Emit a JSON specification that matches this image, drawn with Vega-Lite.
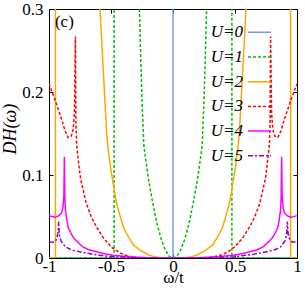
{
"$schema": "https://vega.github.io/schema/vega-lite/v6.json",
"width": 248, "height": 249,
"autosize": {"type": "none"},
"padding": {"left": 49, "top": 9, "right": 8, "bottom": 34},
"background": "white",
"config": {
  "view": {"stroke": "#000", "strokeWidth": 1},
  "font": "Liberation Serif",
  "axis": {"grid": false, "domain": false, "tickColor": "#000", "tickSize": -4, "labelFont": "Liberation Serif", "labelFontSize": 17, "labelColor": "#000", "labelFlush": false, "labelOverlap": false, "labelBound": false, "titleFont": "Liberation Serif", "titleFontSize": 17, "titleFontWeight": "normal", "titleColor": "#000"}
},
"data": {"values": [
{"series":"U=0","x":-1,"y":0},{"series":"U=0","x":0,"y":0},{"series":"U=0","x":0,"y":0.5},{"series":"U=0","x":0,"y":0},{"series":"U=0","x":1,"y":0},

{"series":"U=1","x":-1,"y":0},{"series":"U=1","x":-0.475,"y":0},{"series":"U=1","x":-0.475,"y":0.6},{"series":"U=1","x":-0.29,"y":0.6},{"series":"U=1","x":-0.28,"y":0.37},{"series":"U=1","x":-0.271,"y":0.3},{"series":"U=1","x":-0.26,"y":0.24},{"series":"U=1","x":-0.25,"y":0.19},{"series":"U=1","x":-0.235,"y":0.135},{"series":"U=1","x":-0.2,"y":0.097},{"series":"U=1","x":-0.168,"y":0.07},{"series":"U=1","x":-0.13,"y":0.042},{"series":"U=1","x":-0.094,"y":0.022},{"series":"U=1","x":-0.06,"y":0.009},{"series":"U=1","x":-0.03,"y":0.002},{"series":"U=1","x":0,"y":0},
{"series":"U=1","x":0.03,"y":0.002},{"series":"U=1","x":0.06,"y":0.009},{"series":"U=1","x":0.094,"y":0.022},{"series":"U=1","x":0.13,"y":0.042},{"series":"U=1","x":0.168,"y":0.07},{"series":"U=1","x":0.2,"y":0.097},{"series":"U=1","x":0.235,"y":0.135},{"series":"U=1","x":0.25,"y":0.19},{"series":"U=1","x":0.26,"y":0.24},{"series":"U=1","x":0.271,"y":0.3},{"series":"U=1","x":0.28,"y":0.37},{"series":"U=1","x":0.29,"y":0.6},{"series":"U=1","x":0.475,"y":0.6},{"series":"U=1","x":0.475,"y":0},{"series":"U=1","x":1,"y":0},

{"series":"U=2","x":-1,"y":0},{"series":"U=2","x":-0.948,"y":0},{"series":"U=2","x":-0.948,"y":0.6},{"series":"U=2","x":-0.62,"y":0.6},{"series":"U=2","x":-0.6,"y":0.36},{"series":"U=2","x":-0.589,"y":0.3},{"series":"U=2","x":-0.56,"y":0.22},{"series":"U=2","x":-0.535,"y":0.15},{"series":"U=2","x":-0.522,"y":0.13},{"series":"U=2","x":-0.508,"y":0.114},{"series":"U=2","x":-0.481,"y":0.088},{"series":"U=2","x":-0.454,"y":0.065},{"series":"U=2","x":-0.4,"y":0.037},{"series":"U=2","x":-0.373,"y":0.029},{"series":"U=2","x":-0.32,"y":0.0157},{"series":"U=2","x":-0.266,"y":0.0096},{"series":"U=2","x":-0.2,"y":0.004},{"series":"U=2","x":-0.15,"y":0.0015},{"series":"U=2","x":-0.1,"y":0.0003},{"series":"U=2","x":0,"y":0},
{"series":"U=2","x":0.1,"y":0.0003},{"series":"U=2","x":0.15,"y":0.0015},{"series":"U=2","x":0.2,"y":0.004},{"series":"U=2","x":0.266,"y":0.0096},{"series":"U=2","x":0.32,"y":0.0157},{"series":"U=2","x":0.373,"y":0.029},{"series":"U=2","x":0.4,"y":0.037},{"series":"U=2","x":0.454,"y":0.065},{"series":"U=2","x":0.481,"y":0.088},{"series":"U=2","x":0.508,"y":0.114},{"series":"U=2","x":0.522,"y":0.13},{"series":"U=2","x":0.535,"y":0.15},{"series":"U=2","x":0.56,"y":0.22},{"series":"U=2","x":0.589,"y":0.3},{"series":"U=2","x":0.6,"y":0.36},{"series":"U=2","x":0.62,"y":0.6},{"series":"U=2","x":0.948,"y":0.6},{"series":"U=2","x":0.948,"y":0},{"series":"U=2","x":1,"y":0},

{"series":"U=3","x":-1,"y":0.21},{"series":"U=3","x":-0.95,"y":0.19},{"series":"U=3","x":-0.9,"y":0.168},{"series":"U=3","x":-0.87,"y":0.153},{"series":"U=3","x":-0.845,"y":0.145},{"series":"U=3","x":-0.82,"y":0.147},{"series":"U=3","x":-0.805,"y":0.155},{"series":"U=3","x":-0.795,"y":0.175},{"series":"U=3","x":-0.787,"y":0.267},{"series":"U=3","x":-0.783,"y":0.165},{"series":"U=3","x":-0.778,"y":0.138},{"series":"U=3","x":-0.76,"y":0.113},{"series":"U=3","x":-0.746,"y":0.096},{"series":"U=3","x":-0.72,"y":0.079},{"series":"U=3","x":-0.7,"y":0.066},{"series":"U=3","x":-0.66,"y":0.05},{"series":"U=3","x":-0.62,"y":0.038},{"series":"U=3","x":-0.56,"y":0.024},{"series":"U=3","x":-0.5,"y":0.0135},{"series":"U=3","x":-0.44,"y":0.0072},{"series":"U=3","x":-0.39,"y":0.0036},{"series":"U=3","x":-0.3,"y":0.0005},{"series":"U=3","x":-0.2,"y":0},{"series":"U=3","x":0,"y":0},
{"series":"U=3","x":0.2,"y":0},{"series":"U=3","x":0.3,"y":0.0005},{"series":"U=3","x":0.39,"y":0.0036},{"series":"U=3","x":0.44,"y":0.0072},{"series":"U=3","x":0.5,"y":0.0135},{"series":"U=3","x":0.56,"y":0.024},{"series":"U=3","x":0.62,"y":0.038},{"series":"U=3","x":0.66,"y":0.05},{"series":"U=3","x":0.7,"y":0.066},{"series":"U=3","x":0.72,"y":0.079},{"series":"U=3","x":0.746,"y":0.096},{"series":"U=3","x":0.76,"y":0.113},{"series":"U=3","x":0.778,"y":0.138},{"series":"U=3","x":0.783,"y":0.165},{"series":"U=3","x":0.787,"y":0.267},{"series":"U=3","x":0.795,"y":0.175},{"series":"U=3","x":0.805,"y":0.155},{"series":"U=3","x":0.82,"y":0.147},{"series":"U=3","x":0.845,"y":0.145},{"series":"U=3","x":0.87,"y":0.153},{"series":"U=3","x":0.9,"y":0.168},{"series":"U=3","x":0.95,"y":0.19},{"series":"U=3","x":1,"y":0.21},

{"series":"U=4","x":-1,"y":0.051},{"series":"U=4","x":-0.975,"y":0.05},{"series":"U=4","x":-0.95,"y":0.049},{"series":"U=4","x":-0.92,"y":0.051},{"series":"U=4","x":-0.9,"y":0.054},{"series":"U=4","x":-0.888,"y":0.06},{"series":"U=4","x":-0.88,"y":0.075},{"series":"U=4","x":-0.876,"y":0.122},{"series":"U=4","x":-0.872,"y":0.072},{"series":"U=4","x":-0.867,"y":0.057},{"series":"U=4","x":-0.855,"y":0.045},{"series":"U=4","x":-0.844,"y":0.036},{"series":"U=4","x":-0.82,"y":0.029},{"series":"U=4","x":-0.8,"y":0.024},{"series":"U=4","x":-0.76,"y":0.018},{"series":"U=4","x":-0.73,"y":0.0137},{"series":"U=4","x":-0.68,"y":0.01},{"series":"U=4","x":-0.62,"y":0.0076},{"series":"U=4","x":-0.55,"y":0.005},{"series":"U=4","x":-0.48,"y":0.0032},{"series":"U=4","x":-0.36,"y":0.0016},{"series":"U=4","x":-0.2,"y":0.0003},{"series":"U=4","x":0,"y":0},
{"series":"U=4","x":0.2,"y":0.0003},{"series":"U=4","x":0.36,"y":0.0016},{"series":"U=4","x":0.48,"y":0.0032},{"series":"U=4","x":0.55,"y":0.005},{"series":"U=4","x":0.62,"y":0.0076},{"series":"U=4","x":0.68,"y":0.01},{"series":"U=4","x":0.73,"y":0.0137},{"series":"U=4","x":0.76,"y":0.018},{"series":"U=4","x":0.8,"y":0.024},{"series":"U=4","x":0.82,"y":0.029},{"series":"U=4","x":0.844,"y":0.036},{"series":"U=4","x":0.855,"y":0.045},{"series":"U=4","x":0.867,"y":0.057},{"series":"U=4","x":0.872,"y":0.072},{"series":"U=4","x":0.876,"y":0.122},{"series":"U=4","x":0.88,"y":0.075},{"series":"U=4","x":0.888,"y":0.06},{"series":"U=4","x":0.9,"y":0.054},{"series":"U=4","x":0.92,"y":0.051},{"series":"U=4","x":0.95,"y":0.049},{"series":"U=4","x":0.975,"y":0.05},{"series":"U=4","x":1,"y":0.051},

{"series":"U=5","x":-1,"y":0.0197},{"series":"U=5","x":-0.965,"y":0.019},{"series":"U=5","x":-0.945,"y":0.021},{"series":"U=5","x":-0.935,"y":0.025},{"series":"U=5","x":-0.927,"y":0.031},{"series":"U=5","x":-0.922,"y":0.044},{"series":"U=5","x":-0.917,"y":0.029},{"series":"U=5","x":-0.91,"y":0.024},{"series":"U=5","x":-0.903,"y":0.0207},{"series":"U=5","x":-0.87,"y":0.0137},{"series":"U=5","x":-0.83,"y":0.0105},{"series":"U=5","x":-0.8,"y":0.009},{"series":"U=5","x":-0.72,"y":0.0065},{"series":"U=5","x":-0.65,"y":0.0045},{"series":"U=5","x":-0.5,"y":0.0016},{"series":"U=5","x":-0.44,"y":0.0012},{"series":"U=5","x":-0.3,"y":0.0003},{"series":"U=5","x":0,"y":0},
{"series":"U=5","x":0.3,"y":0.0003},{"series":"U=5","x":0.44,"y":0.0012},{"series":"U=5","x":0.5,"y":0.0016},{"series":"U=5","x":0.65,"y":0.0045},{"series":"U=5","x":0.72,"y":0.0065},{"series":"U=5","x":0.8,"y":0.009},{"series":"U=5","x":0.83,"y":0.0105},{"series":"U=5","x":0.87,"y":0.0137},{"series":"U=5","x":0.903,"y":0.0207},{"series":"U=5","x":0.91,"y":0.024},{"series":"U=5","x":0.917,"y":0.029},{"series":"U=5","x":0.922,"y":0.044},{"series":"U=5","x":0.927,"y":0.031},{"series":"U=5","x":0.935,"y":0.025},{"series":"U=5","x":0.945,"y":0.021},{"series":"U=5","x":0.965,"y":0.019},{"series":"U=5","x":1,"y":0.0197}
]},
"layer": [
  {
    "mark": {"type": "line", "clip": true, "strokeWidth": 1.5},
    "encoding": {
      "x": {"field": "x", "type": "quantitative", "scale": {"domain": [-1, 1], "nice": false, "zero": false},
            "axis": {"orient": "bottom", "values": [-1, -0.5, 0, 0.5, 1], "labelExpr": "'' + datum.value", "labelPadding": 4, "title": "ω/t", "titleY": 24, "titleBaseline": "alphabetic"}},
      "y": {"field": "y", "type": "quantitative", "scale": {"domain": [0, 0.3], "nice": false},
            "axis": {"orient": "left", "values": [0, 0.1, 0.2, 0.3], "labelExpr": "'' + datum.value", "labelPadding": 10, "title": "DH(ω)", "titleFontStyle": "italic", "titleFontSize": 18, "titleX": -33.5, "titleY": 145, "titleAngle": -90, "titleBaseline": "alphabetic", "titleAlign": "left"}},
      "color": {"field": "series", "type": "nominal",
                "scale": {"domain": ["U=0", "U=1", "U=2", "U=3", "U=4", "U=5"], "range": ["#7b9ae6", "#00bb00", "#ffa500", "#ff0000", "#ff00ff", "#9400d3"]},
                "legend": {"title": null, "orient": "none", "legendX": 198, "legendY": 10.8, "padding": 0, "labelFont": "Liberation Serif", "labelFontStyle": "italic", "labelFontSize": 17, "labelColor": "#000", "symbolType": "stroke", "symbolSize": 529, "symbolStrokeWidth": 1.5, "labelAlign": "right", "labelOffset": -29, "rowPadding": 3.7}},
      "strokeDash": {"field": "series", "type": "nominal",
                "scale": {"domain": ["U=0", "U=1", "U=2", "U=3", "U=4", "U=5"], "range": [[1, 0], [3, 2], [1, 0], [3, 2], [1, 0], [5, 2, 2, 2]]},
                "legend": {"title": null, "orient": "none", "legendX": 198, "legendY": 10.8, "padding": 0, "labelFont": "Liberation Serif", "labelFontStyle": "italic", "labelFontSize": 17, "labelColor": "#000", "symbolType": "stroke", "symbolSize": 529, "symbolStrokeWidth": 1.5, "labelAlign": "right", "labelOffset": -29, "rowPadding": 3.7}},
      "order": {"value": null}
    }
  },
  {
    "data": {"values": [{"label": "(c)"}]},
    "mark": {"type": "text", "align": "left", "baseline": "alphabetic", "font": "Liberation Serif", "fontSize": 17, "fontWeight": "normal", "color": "#000"},
    "encoding": {
      "text": {"field": "label"},
      "x": {"datum": -0.952, "type": "quantitative", "axis": null},
      "y": {"datum": 0.278, "type": "quantitative", "axis": null}
    }
  },
  {
    "mark": {"type": "point", "opacity": 0},
    "encoding": {
      "x": {"field": "x", "type": "quantitative", "axis": {"orient": "top", "values": [-1, -0.5, 0, 0.5, 1], "labels": false, "title": null}},
      "y": {"field": "y", "type": "quantitative", "axis": {"orient": "right", "values": [0, 0.1, 0.2, 0.3], "labels": false, "title": null}}
    }
  }
],
"resolve": {"axis": {"x": "independent", "y": "independent"}}
}
